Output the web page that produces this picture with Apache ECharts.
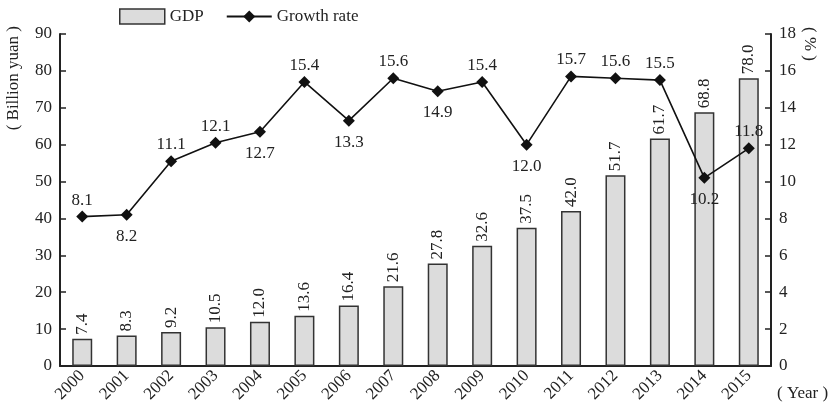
<!DOCTYPE html>
<html>
<head>
<meta charset="utf-8">
<script src="https://cdn.jsdelivr.net/npm/echarts@6/dist/echarts.min.js"></script>
<style>
  html, body { margin: 0; padding: 0; background: #fff; }
  #chart { width: 839px; height: 411px; }
</style>
</head>
<body>
<div id="chart"></div>
<script>
// Years on the category axis
const years = ['2000', '2001', '2002', '2003', '2004', '2005', '2006', '2007',
               '2008', '2009', '2010', '2011', '2012', '2013', '2014', '2015'];
// GDP, billion yuan
const gdp = [7.4, 8.3, 9.2, 10.5, 12.0, 13.6, 16.4, 21.6, 27.8, 32.6, 37.5, 42.0, 51.7, 61.7, 68.8, 78.0];
// Growth rate, %
const growth = [8.1, 8.2, 11.1, 12.1, 12.7, 15.4, 13.3, 15.6, 14.9, 15.4, 12.0, 15.7, 15.6, 15.5, 10.2, 11.8];
// Where each growth label sits relative to its point
const growthLabelSide = ['top', 'bottom', 'top', 'top', 'bottom', 'top', 'bottom', 'top',
                         'bottom', 'top', 'bottom', 'top', 'top', 'top', 'bottom', 'top'];

const FONT = 'Liberation Serif';
const INK = '#222';

const chart = echarts.init(document.getElementById('chart'), null, { renderer: 'canvas' });

chart.setOption({
  animation: false,
  backgroundColor: '#fff',
  textStyle: { fontFamily: FONT, color: INK },
  grid: { left: 60, right: 68, top: 34, bottom: 45, containLabel: false },
  legend: {
    left: 114,
    top: 3,
    itemWidth: 45,
    itemHeight: 15,
    itemGap: 22,
    textStyle: { fontFamily: FONT, fontSize: 17, color: INK },
    data: [
      { name: 'GDP', icon: 'rect', itemStyle: { color: '#dcdcdc', borderColor: '#333', borderWidth: 1.5 } },
      { name: 'Growth rate' }
    ]
  },
  xAxis: {
    type: 'category',
    data: years,
    boundaryGap: true,
    axisLine: { lineStyle: { color: INK, width: 2 } },
    axisTick: { inside: true, length: 6, lineStyle: { color: INK, width: 1.5 } },
    axisLabel: { rotate: 45, margin: 7, fontFamily: FONT, fontSize: 17, color: INK }
  },
  yAxis: [
    {
      type: 'value',
      min: 0, max: 90, interval: 10,
      splitLine: { show: false },
      axisLine: { show: true, lineStyle: { color: INK, width: 2 } },
      axisTick: { show: true, inside: true, length: 6, lineStyle: { color: INK, width: 1.5 } },
      axisLabel: { margin: 8, fontFamily: FONT, fontSize: 17, color: INK }
    },
    {
      type: 'value',
      min: 0, max: 18, interval: 2,
      position: 'right',
      splitLine: { show: false },
      axisLine: { show: true, lineStyle: { color: INK, width: 2 } },
      axisTick: { show: true, inside: true, length: 6, lineStyle: { color: INK, width: 1.5 } },
      axisLabel: { margin: 8, fontFamily: FONT, fontSize: 17, color: INK }
    }
  ],
  graphic: [
    {
      type: 'text', left: 5, top: 26, rotation: Math.PI / 2,
      style: { text: '( Billion yuan )', font: '17px "Liberation Serif"', fill: INK }
    },
    {
      type: 'text', left: 801, top: 27, rotation: -Math.PI / 2,
      style: { text: '( % )', font: '17px "Liberation Serif"', fill: INK }
    },
    {
      type: 'text', left: 777, top: 385,
      style: { text: '( Year )', font: '17px "Liberation Serif"', fill: INK }
    }
  ],
  series: [
    {
      name: 'GDP',
      type: 'bar',
      yAxisIndex: 0,
      barWidth: 20,
      data: gdp,
      itemStyle: { color: '#dcdcdc', borderColor: '#333', borderWidth: 1.5 },
      label: {
        show: true,
        position: 'top',
        rotate: 90,
        align: 'left',
        verticalAlign: 'middle',
        distance: 4,
        fontFamily: FONT,
        fontSize: 17,
        color: INK,
        formatter: p => p.value.toFixed(1)
      },
      z: 2
    },
    {
      name: 'Growth rate',
      type: 'line',
      yAxisIndex: 1,
      symbol: 'diamond',
      symbolSize: 12,
      data: growth.map((v, i) => ({
        value: v,
        label: {
          position: growthLabelSide[i],
          distance: growthLabelSide[i] === 'top' ? 2 : 7
        }
      })),
      lineStyle: { color: '#111', width: 1.6 },
      itemStyle: { color: '#111' },
      label: {
        show: true,
        fontFamily: FONT,
        fontSize: 17,
        color: INK,
        formatter: p => p.value.toFixed(1)
      },
      z: 3
    }
  ]
});
</script>
</body>
</html>
